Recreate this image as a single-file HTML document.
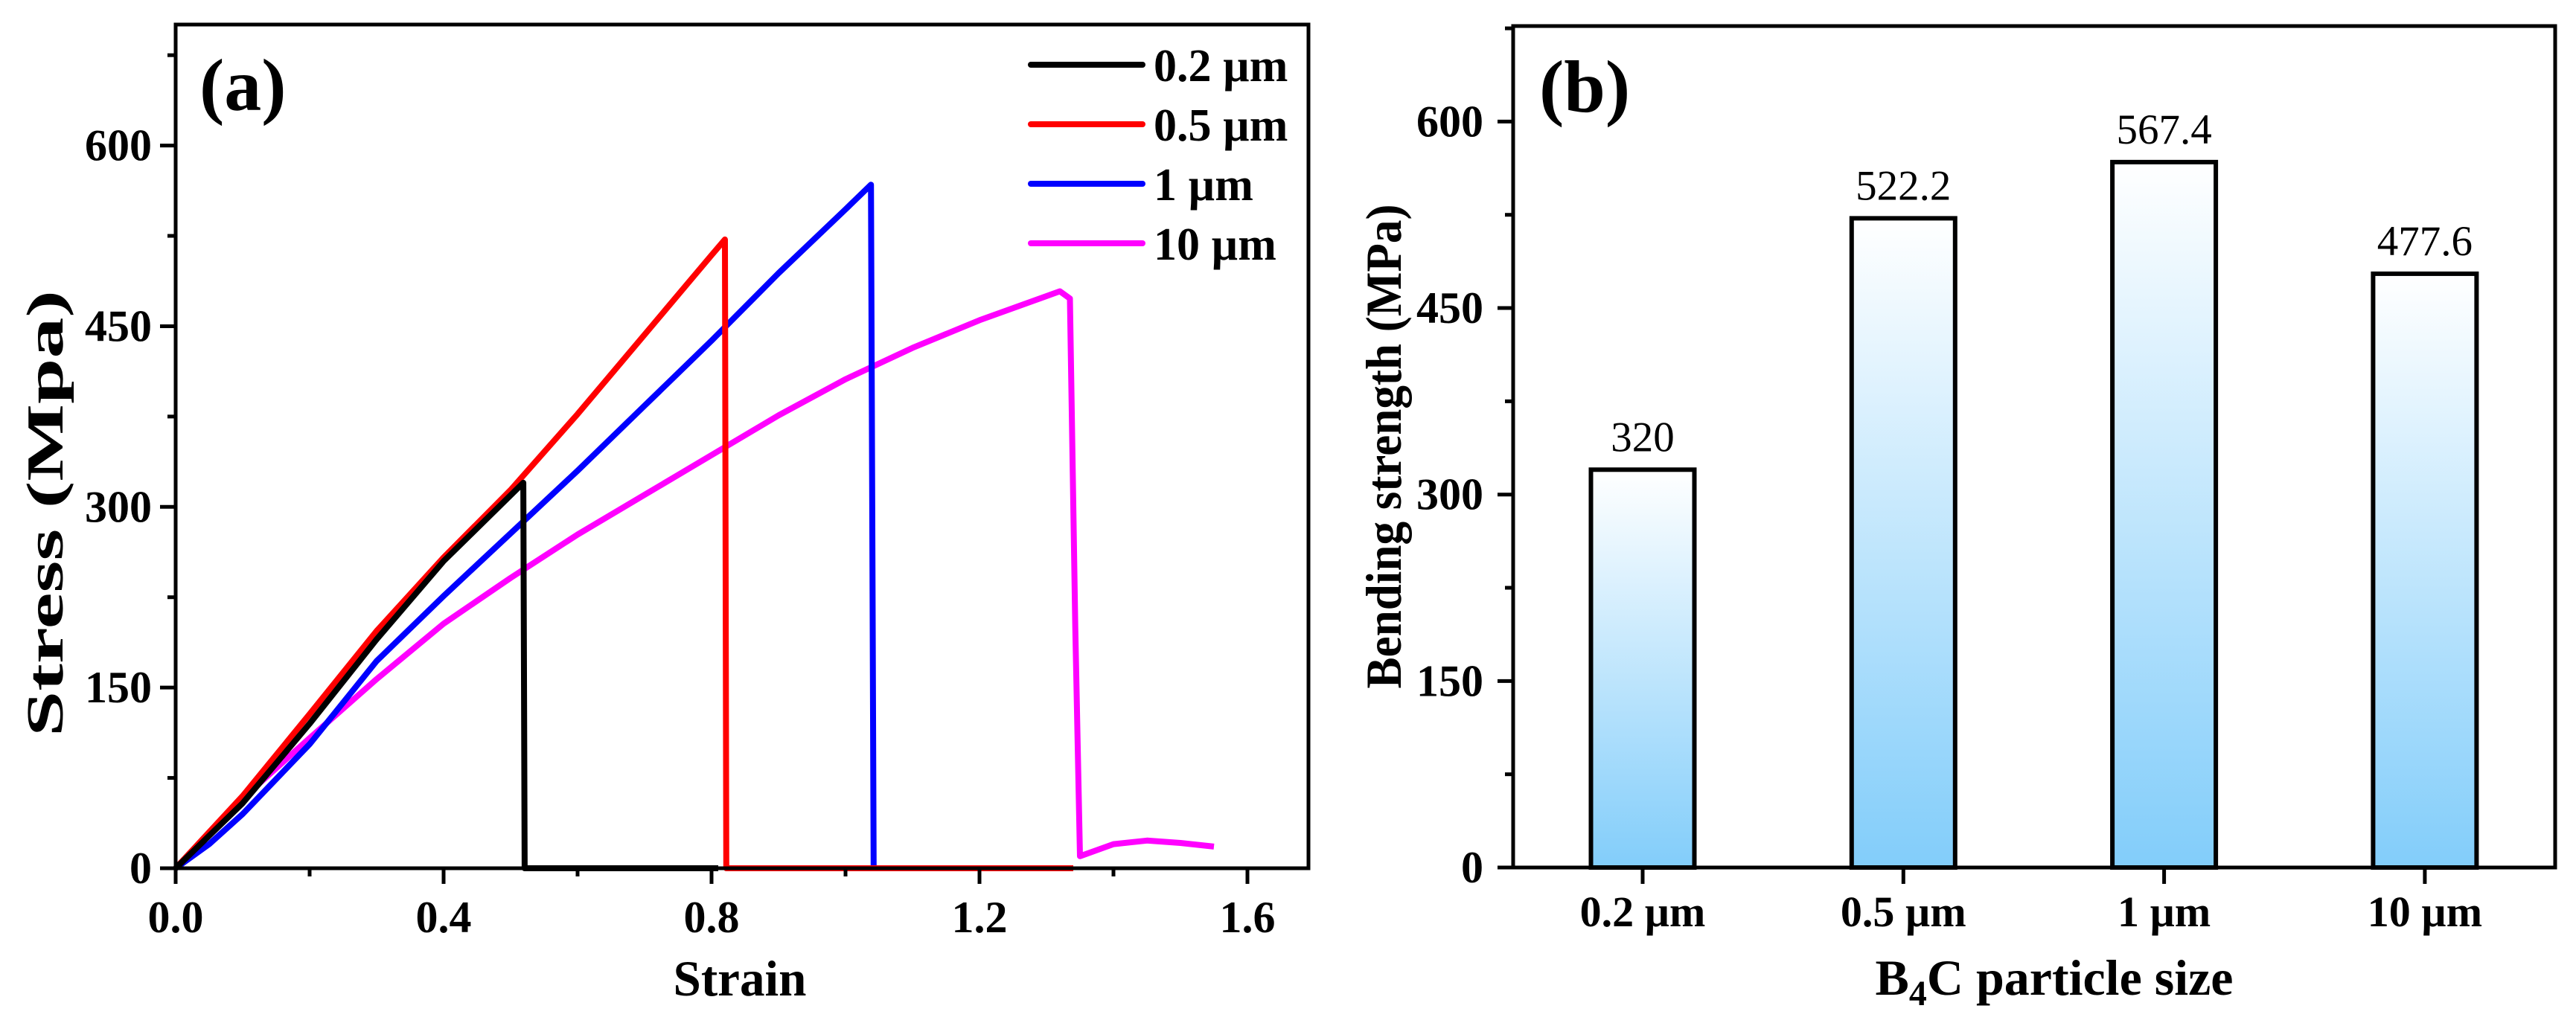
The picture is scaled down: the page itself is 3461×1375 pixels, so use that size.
<!DOCTYPE html>
<html><head><meta charset="utf-8"><style>
html,body{margin:0;padding:0;background:#fff;}
svg{display:block;font-family:"Liberation Serif",serif;}
</style></head><body>
<svg id="fig" width="3461" height="1375" viewBox="0 0 3461 1375" xmlns="http://www.w3.org/2000/svg">
<defs>
<linearGradient id="barGrad" x1="0" y1="0" x2="0" y2="1">
<stop offset="0" stop-color="#ffffff"/><stop offset="1" stop-color="#82cdfa"/>
</linearGradient>
</defs>
<g id="chartA"></g>
<g id="chartB"></g>
</svg>
<script>
// ---- Chart (a) data ----
const seriesNames = ["0.2 µm","0.5 µm","1 µm","10 µm"];
const seriesColors = ["#000000","#ff0000","#0000ff","#ff00ff"];
const strain02 = [0,0.1,0.2,0.3,0.4,0.519,0.521,0.81];
const stress02 = [0,54,120,190,255,320,0,0];
const strain05 = [0,0.1,0.2,0.3,0.4,0.5,0.6,0.7,0.8,0.82,0.822,1.34];
const stress05 = [0,60,128,197,258,314,377,443,509,522,0,0];
const strain1 = [0,0.05,0.1,0.2,0.3,0.4,0.5,0.6,0.7,0.8,0.9,1.0,1.038,1.042,1.282];
const stress1 = [0,20,45,103,172,226,278,330,384,438,494,547,567.5,0,0];
const strain10 = [0,0.1,0.2,0.3,0.4,0.5,0.6,0.7,0.8,0.9,1.0,1.1,1.2,1.3,1.32,1.335,1.343,1.35,1.4,1.45,1.5,1.55];
const stress10 = [0,58,108,157,203,241,277,310,343,376,406,432,455,475,479,473,200,10,20,23,21,18];
const xTicksA = [0,0.4,0.8,1.2,1.6];
const xTickLabelsA = ["0.0","0.4","0.8","1.2","1.6"];
const yTicksA = [0,150,300,450,600];
const yTickLabelsA = ["0","150","300","450","600"];
// ---- Chart (b) data ----
const categories = ["0.2 µm","0.5 µm","1 µm","10 µm"];
const strengths = [320,522.2,567.4,477.6];
const strengthLabels = ["320","522.2","567.4","477.6"];
const yTicksB = [0,150,300,450,600];
const yTickLabelsB = ["0","150","300","450","600"];

const NS="http://www.w3.org/2000/svg";
function mk(parent,tag,attrs,text){const e=document.createElementNS(NS,tag);for(const k in attrs)e.setAttribute(k,attrs[k]);if(text!==undefined)e.textContent=text;parent.appendChild(e);return e;}

// ---------- Chart A ----------
(function(){
const g=document.getElementById('chartA');
const L=236,R=1758,T=33,B=1167;
const X=s=>L+900*s, Y=v=>B-1.619*v;
const data=[[strain02,stress02],[strain05,stress05],[strain1,stress1],[strain10,stress10]];
const order=[3,2,1,0];
order.forEach(i=>{
 const [xs,ys]=data[i];
 const d=xs.map((s,k)=>(k?'L':'M')+X(s).toFixed(1)+' '+Y(ys[k]).toFixed(1)).join(' ');
 const p=mk(g,'path',{d:d,fill:'none',stroke:seriesColors[i],'stroke-width':8,'stroke-linejoin':'round'});
 
 
});
const frame=mk(g,'rect',{x:L,y:T,width:R-L,height:B-T,fill:'none',stroke:'#000','stroke-width':5});


for(let v=0;v<=675;v+=75){
 const major=v%150===0;
 const t=mk(g,'line',{x1:L-(major?21:11),x2:L,y1:Y(v),y2:Y(v),stroke:'#000','stroke-width':5});
 
 
}
yTicksA.forEach((v,i)=>{
 const t=mk(g,'text',{x:L-32,y:Y(v)+20,'text-anchor':'end','font-size':60,'font-weight':'bold'},yTickLabelsA[i]);
 
 
});
for(let k=0;k<=8;k++){
 const s=k*0.2,major=k%2===0;
 const t=mk(g,'line',{x1:X(s),x2:X(s),y1:B,y2:B+(major?21:11),stroke:'#000','stroke-width':5});
 
 
}
xTicksA.forEach((s,i)=>{
 const t=mk(g,'text',{x:X(s),y:1253,'text-anchor':'middle','font-size':60,'font-weight':'bold'},xTickLabelsA[i]);
 
 
});
const xt=mk(g,'text',{x:994,y:1338,'text-anchor':'middle','font-size':68,'font-weight':'bold',textLength:179,lengthAdjust:'spacingAndGlyphs'},'Strain');


const yt=mk(g,'text',{x:0,y:0,'text-anchor':'middle','font-size':70,'font-weight':'bold',textLength:600,lengthAdjust:'spacingAndGlyphs',transform:'translate(84,690) rotate(-90)'},'Stress (Mpa)');


const pl=mk(g,'text',{x:268,y:148,'font-size':100,'font-weight':'bold'},'(a)');


seriesNames.forEach((n,i)=>{
 const y=87+80*i;
 const ln=mk(g,'line',{x1:1385,x2:1535,y1:y,y2:y,stroke:seriesColors[i],'stroke-width':8,'stroke-linecap':'round'});
 
 
 const tx=mk(g,'text',{x:1550,y:y+22,'font-size':62,'font-weight':'bold'},n);
 
 
});
})();

// ---------- Chart B ----------
(function(){
const g=document.getElementById('chartB');
const L=2033,R=3433,T=35,B=1166;
const Y=v=>B-1.671*v;
const X=i=>2207+350.3*i;
const bw=139;
strengths.forEach((v,i)=>{
 const r=mk(g,'rect',{x:X(i)-bw/2,y:Y(v),width:bw,height:B-Y(v),fill:'url(#barGrad)',stroke:'#000','stroke-width':6});
 
 
 const t=mk(g,'text',{x:X(i),y:Y(v)-25,'text-anchor':'middle','font-size':57},strengthLabels[i]);
 
 
});
const frame=mk(g,'rect',{x:L,y:T,width:R-L,height:B-T,fill:'none',stroke:'#000','stroke-width':5});


for(let v=0;v<=675;v+=75){
 const major=v%150===0;
 const t=mk(g,'line',{x1:L-(major?21:11),x2:L,y1:Y(v),y2:Y(v),stroke:'#000','stroke-width':5});
 
 
}
yTicksB.forEach((v,i)=>{
 const t=mk(g,'text',{x:L-40,y:Y(v)+20,'text-anchor':'end','font-size':60,'font-weight':'bold'},yTickLabelsB[i]);
 
 
});
categories.forEach((c,i)=>{
 const t=mk(g,'line',{x1:X(i),x2:X(i),y1:B,y2:B+22,stroke:'#000','stroke-width':5});
 
 
 const l=mk(g,'text',{x:X(i),y:1245,'text-anchor':'middle','font-size':58,'font-weight':'bold'},c);
 
 
});
const xt=mk(g,'text',{x:2760,y:1337,'text-anchor':'middle','font-size':68,'font-weight':'bold'});


mk(xt,'tspan',{},'B');
mk(xt,'tspan',{'font-size':48,dy:14},'4');
mk(xt,'tspan',{dy:-14},'C particle size');
const yt=mk(g,'text',{x:0,y:0,'text-anchor':'middle','font-size':68,'font-weight':'bold',textLength:651,lengthAdjust:'spacingAndGlyphs',transform:'translate(1882,600) rotate(-90)'},'Bending strength (MPa)');


const pl=mk(g,'text',{x:2068,y:150,'font-size':100,'font-weight':'bold'},'(b)');


})();
</script>
</body></html>
